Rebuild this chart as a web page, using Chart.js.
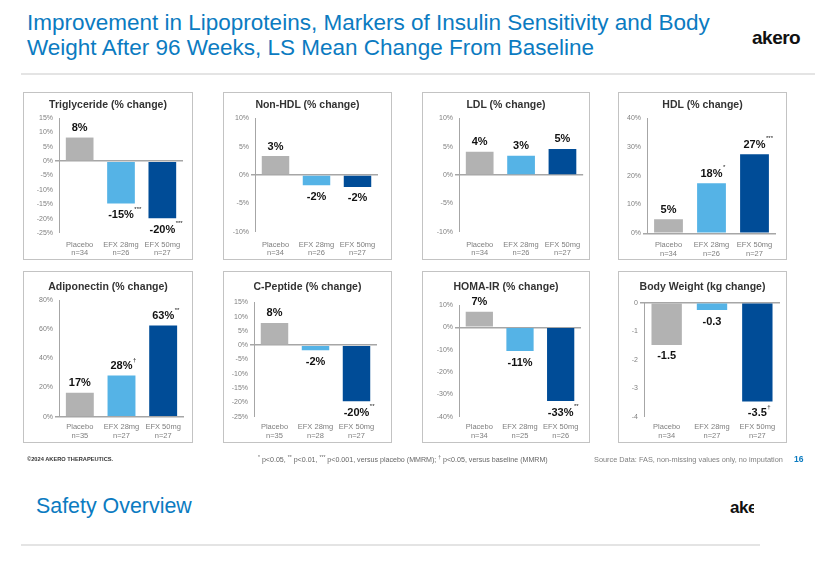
<!DOCTYPE html>
<html>
<head>
<meta charset="utf-8">
<script src="https://cdn.jsdelivr.net/npm/chart.js@4/dist/chart.umd.min.js"></script>
<style>
  html, body { margin:0; padding:0; background:#fff; }
  body { width:832px; height:566px; position:relative; overflow:hidden; font-family:"Liberation Sans", Arial, sans-serif; }
  .abs { position:absolute; white-space:nowrap; }
  .title { left:27px; top:10px; font-size:22.5px; line-height:25px; color:#0b7bc1; }
  .logo { font-weight:bold; color:#111; letter-spacing:-0.5px; }
  .rule { position:absolute; height:2px; background:#e4e4e4; }
  .panel { position:absolute; box-sizing:border-box; border:1.5px solid #c3c3c3; pointer-events:none; }
  .ptitle { position:absolute; text-align:center; font-weight:bold; font-size:10.5px; color:#333; }
  canvas { position:absolute; }
</style>
</head>
<body>
<div class="abs title">Improvement in Lipoproteins, Markers of Insulin Sensitivity and Body<br>Weight After 96 Weeks, LS Mean Change From Baseline</div>
<div class="abs logo" style="left:752px; top:27px; font-size:19px;">akero</div>
<div class="rule" style="left:21px; top:73px; width:794px;"></div>

<div id="charts"></div>

<div class="abs" style="left:27px; top:456px; font-size:5.7px; font-weight:bold; color:#333;">©2024 AKERO THERAPEUTICS.</div>
<div class="abs" style="left:258px; top:454px; font-size:7.1px; color:#666;"><sup style="font-size:5px">*</sup> p&lt;0.05, <sup style="font-size:5px">**</sup> p&lt;0.01, <sup style="font-size:5px">***</sup> p&lt;0.001, versus placebo (MMRM); <sup style="font-size:5px">†</sup> p&lt;0.05, versus baseline (MMRM)</div>
<div class="abs" style="left:594px; top:455px; font-size:7.35px; color:#808080;">Source Data: FAS, non-missing values only, no imputation</div>
<div class="abs" style="left:794px; top:454px; font-size:8.5px; font-weight:bold; color:#0b7bc1;">16</div>

<div class="abs" style="left:36px; top:494px; font-size:21.4px; color:#0b7bc1;">Safety Overview</div>
<div class="abs logo" style="left:730px; top:498px; font-size:17px; width:24px; overflow:hidden;">akero</div>
<div class="rule" style="left:21px; top:544px; width:739px;"></div>

<script>
// ---------- DATA ----------
const groups = ['Placebo', 'EFX 28mg', 'EFX 50mg'];
const barColors = ['#b2b2b2', '#55b3e6', '#004c97'];

const triglycerideValues = [8.2, -14.7, -19.9];
const triglycerideLabels = ['8%', '-15%', '-20%'];
const triglycerideMarks = ['', '***', '***'];
const triglycerideN = ['n=34', 'n=26', 'n=27'];
const triglycerideTicks = [-25, 15, 5];

const nonHdlValues = [3.35, -1.8, -2.1];
const nonHdlLabels = ['3%', '-2%', '-2%'];
const nonHdlMarks = ['', '', ''];
const nonHdlN = ['n=34', 'n=26', 'n=27'];
const nonHdlTicks = [-10, 10, 5];

const ldlValues = [4.1, 3.4, 4.6];
const ldlLabels = ['4%', '3%', '5%'];
const ldlMarks = ['', '', ''];
const ldlN = ['n=34', 'n=26', 'n=27'];
const ldlTicks = [-10, 10, 5];

const hdlValues = [4.9, 17.4, 27.5];
const hdlLabels = ['5%', '18%', '27%'];
const hdlMarks = ['', '*', '***'];
const hdlN = ['n=34', 'n=26', 'n=27'];
const hdlTicks = [0, 40, 10];

const adiponectinValues = [16.5, 28.2, 62.5];
const adiponectinLabels = ['17%', '28%', '63%'];
const adiponectinMarks = ['', '†', '**'];
const adiponectinN = ['n=35', 'n=27', 'n=27'];
const adiponectinTicks = [0, 80, 20];

const cPeptideValues = [7.8, -1.8, -19.6];
const cPeptideLabels = ['8%', '-2%', '-20%'];
const cPeptideMarks = ['', '', '**'];
const cPeptideN = ['n=35', 'n=28', 'n=27'];
const cPeptideTicks = [-25, 15, 5];

const homaIrValues = [7.0, -10.6, -33.0];
const homaIrLabels = ['7%', '-11%', '-33%'];
const homaIrMarks = ['', '', '**'];
const homaIrN = ['n=34', 'n=25', 'n=26'];
const homaIrTicks = [-40, 10, 10];

const bodyWeightValues = [-1.48, -0.26, -3.47];
const bodyWeightLabels = ['-1.5', '-0.3', '-3.5'];
const bodyWeightMarks = ['', '', '†'];
const bodyWeightN = ['n=34', 'n=27', 'n=27'];
const bodyWeightTicks = [-4, 0, 1];

const panelTitles = ['Triglyceride (% change)', 'Non-HDL (% change)', 'LDL (% change)', 'HDL (% change)',
  'Adiponectin (% change)', 'C-Peptide (% change)', 'HOMA-IR (% change)', 'Body Weight (kg change)'];

// ---------- LAYOUT (positions only) ----------
const layouts = [
  { box:[23, 92, 170, 168],  plot:[59, 183, 118, 233],   ty:104, xpad:8 },
  { box:[223, 92, 169, 168], plot:[255, 378, 118.3, 231.7], ty:104, xpad:9 },
  { box:[422, 92, 168, 168], plot:[459, 585, 118.3, 231.7], ty:104, xpad:9 },
  { box:[618, 92, 169, 168], plot:[647, 776, 118.3, 233.3], ty:104, xpad:8 },
  { box:[23, 271, 170, 172], plot:[59, 184, 300, 416.7],   ty:286, xpad:6.5 },
  { box:[223, 271, 169, 172], plot:[254, 377, 302.3, 416.7], ty:286, xpad:6.5 },
  { box:[422, 271, 168, 172], plot:[459, 581, 305, 416.7],   ty:286, xpad:6.5 },
  { box:[618, 271, 169, 172], plot:[644, 780, 302.7, 416.7], ty:286, xpad:6.5 }
];

const panels = [
  { v:triglycerideValues, l:triglycerideLabels, m:triglycerideMarks, n:triglycerideN, t:triglycerideTicks, pct:true },
  { v:nonHdlValues, l:nonHdlLabels, m:nonHdlMarks, n:nonHdlN, t:nonHdlTicks, pct:true },
  { v:ldlValues, l:ldlLabels, m:ldlMarks, n:ldlN, t:ldlTicks, pct:true },
  { v:hdlValues, l:hdlLabels, m:hdlMarks, n:hdlN, t:hdlTicks, pct:true },
  { v:adiponectinValues, l:adiponectinLabels, m:adiponectinMarks, n:adiponectinN, t:adiponectinTicks, pct:true },
  { v:cPeptideValues, l:cPeptideLabels, m:cPeptideMarks, n:cPeptideN, t:cPeptideTicks, pct:true },
  { v:homaIrValues, l:homaIrLabels, m:homaIrMarks, n:homaIrN, t:homaIrTicks, pct:true },
  { v:bodyWeightValues, l:bodyWeightLabels, m:bodyWeightMarks, n:bodyWeightN, t:bodyWeightTicks, pct:false }
];

const FONT = '"Liberation Sans", Arial, sans-serif';

const valueLabelPlugin = {
  id: 'valueLabels',
  afterDatasetsDraw(chart, args, opts) {
    const ctx = chart.ctx;
    const meta = chart.getDatasetMeta(0);
    const data = chart.data.datasets[0].data;
    meta.data.forEach((bar, i) => {
      const v = data[i];
      const text = opts.labels[i];
      const mark = opts.marks[i];
      const y = v >= 0 ? bar.y - 9.5 : bar.y + 11.5;
      ctx.save();
      ctx.font = 'bold 11px ' + FONT;
      ctx.fillStyle = '#111';
      ctx.textAlign = 'center';
      ctx.textBaseline = 'middle';
      ctx.fillText(text, bar.x, y);
      if (mark) {
        const w = ctx.measureText(text).width;
        ctx.font = '6px ' + FONT;
        ctx.textAlign = 'left';
        ctx.fillText(mark, bar.x + w / 2 + 0.5, y - 6);
      }
      ctx.restore();
    });
  }
};

const container = document.getElementById('charts');
panels.forEach((p, idx) => {
  const L = layouts[idx];
  const [bx, by, bw, bh] = L.box;
  const [pl, pr, pt, pb] = L.plot;

  const cv = document.createElement('canvas');
  cv.width = bw; cv.height = bh;
  cv.style.left = bx + 'px'; cv.style.top = by + 'px';
  cv.style.width = bw + 'px'; cv.style.height = bh + 'px';
  container.appendChild(cv);

  const border = document.createElement('div');
  border.className = 'panel';
  border.style.left = bx + 'px'; border.style.top = by + 'px';
  border.style.width = bw + 'px'; border.style.height = bh + 'px';
  container.appendChild(border);

  const tt = document.createElement('div');
  tt.className = 'ptitle';
  tt.textContent = panelTitles[idx];
  tt.style.left = bx + 'px'; tt.style.width = bw + 'px';
  tt.style.top = (L.ty - 6) + 'px'; tt.style.lineHeight = '12px';
  container.appendChild(tt);

  const yw = pl - bx;
  const xh = by + bh - pb;

  new Chart(cv, {
    type: 'bar',
    data: {
      labels: groups.map((g, i) => [g, p.n[i]]),
      datasets: [{ data: p.v, backgroundColor: barColors, barPercentage: 0.67, categoryPercentage: 1 }]
    },
    options: {
      responsive: false,
      animation: false,
      devicePixelRatio: 1,
      layout: { padding: { top: pt - by, right: bx + bw - pr, bottom: 0, left: 0 } },
      plugins: {
        legend: { display: false },
        tooltip: { enabled: false },
        title: { display: false },
        valueLabels: { labels: p.l, marks: p.m }
      },
      scales: {
        x: {
          grid: { display: false, drawTicks: false },
          border: { display: false },
          ticks: { color: '#7f7f7f', font: { size: 7.5, family: FONT, lineHeight: 1.1 }, padding: L.xpad, maxRotation: 0, autoSkip: false },
          afterFit: s => { s.height = xh; }
        },
        y: {
          min: p.t[0], max: p.t[1],
          ticks: {
            stepSize: p.t[2],
            color: '#7f7f7f',
            font: { size: 7, family: FONT },
            padding: 2,
            callback: v => p.pct ? v + '%' : String(v)
          },
          grid: {
            color: c => (c.tick && c.tick.value === 0) ? '#a6a6a6' : 'rgba(0,0,0,0)',
            lineWidth: c => (c.tick && c.tick.value === 0) ? 1.5 : 0,
            tickColor: '#a6a6a6',
            tickLength: 4,
            drawTicks: true
          },
          border: { display: true, color: '#a6a6a6', width: 1 },
          afterFit: s => { s.width = yw; }
        }
      }
    },
    plugins: [valueLabelPlugin]
  });
});
</script>
</body>
</html>
